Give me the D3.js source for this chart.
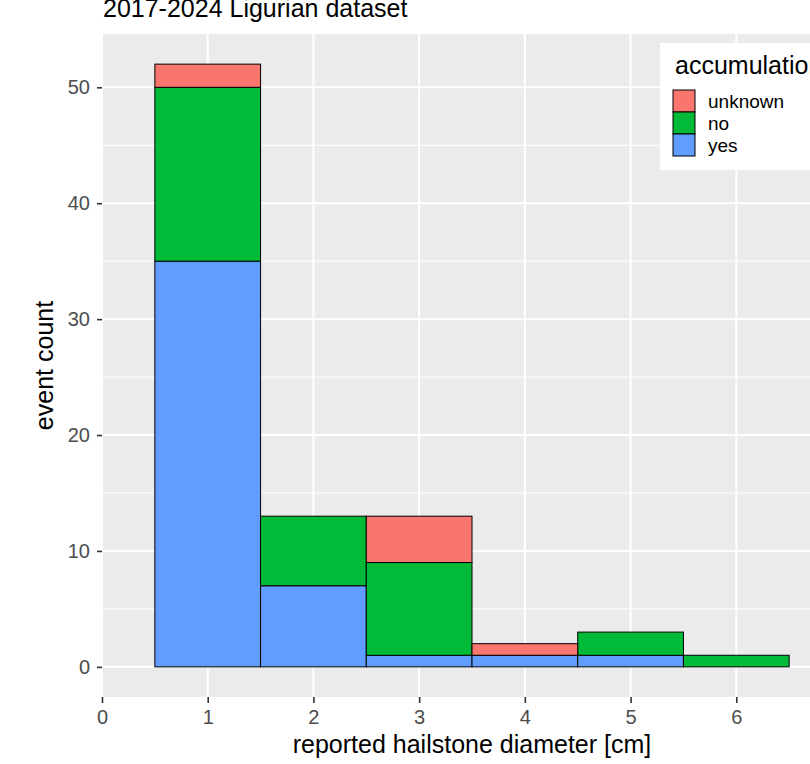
<!DOCTYPE html>
<html>
<head>
<meta charset="utf-8">
<script src="https://cdn.jsdelivr.net/npm/d3@7"></script>
<style>
  body { margin: 0; background: #fff; }
  svg { display: block; }
  text { font-family: "Liberation Sans", Arial, sans-serif; }
</style>
</head>
<body>
<div id="chart"></div>
<script>
// histogram bins (reported diameter, cm) and counts per accumulation class
const bins = [1, 2, 3, 4, 5, 6];
const yesCounts = [35, 7, 1, 1, 1, 0];
const noCounts = [15, 6, 8, 0, 2, 1];
const unknownCounts = [2, 0, 4, 1, 0, 0];
const classes = ["yes", "no", "unknown"];        // stacking order, bottom to top
const legendOrder = ["unknown", "no", "yes"];
const colors = { unknown: "#F8766D", no: "#00BA38", yes: "#619CFF" };
const xTicks = [0, 1, 2, 3, 4, 5, 6];
const yTicks = [0, 10, 20, 30, 40, 50];
const yMinor = [5, 15, 25, 35, 45];

const W = 810, H = 764;
const panel = { left: 102, right: 842, top: 34, bottom: 697 };

const rows = bins.map((b, i) => ({
  bin: b, yes: yesCounts[i], no: noCounts[i], unknown: unknownCounts[i]
}));

const svg = d3.select("#chart").append("svg")
  .attr("width", W)
  .attr("height", H);

const x = d3.scaleLinear().domain([0, 7]).range([panel.left, panel.right]);
const yMax = d3.max(rows, d => d.yes + d.no + d.unknown);
const y = d3.scaleLinear()
  .domain([-yMax * 0.05, yMax * 1.05])
  .range([panel.bottom, panel.top]);

// panel background
svg.append("rect")
  .attr("x", panel.left)
  .attr("y", panel.top)
  .attr("width", panel.right - panel.left)
  .attr("height", panel.bottom - panel.top)
  .attr("fill", "#EBEBEB");

// grid
svg.selectAll("line.minor-y")
  .data(yMinor)
  .enter().append("line")
  .attr("x1", panel.left).attr("x2", panel.right)
  .attr("y1", d => y(d)).attr("y2", d => y(d))
  .attr("stroke", "#fff").attr("stroke-width", 1);

svg.selectAll("line.major-y")
  .data(yTicks)
  .enter().append("line")
  .attr("x1", panel.left).attr("x2", panel.right)
  .attr("y1", d => y(d)).attr("y2", d => y(d))
  .attr("stroke", "#fff").attr("stroke-width", 2);

svg.selectAll("line.major-x")
  .data(xTicks)
  .enter().append("line")
  .attr("x1", d => x(d)).attr("x2", d => x(d))
  .attr("y1", panel.top).attr("y2", panel.bottom)
  .attr("stroke", "#fff").attr("stroke-width", 2);

// stacked bars
const stacked = d3.stack().keys(classes)(rows);

svg.append("g")
  .selectAll("g")
  .data(stacked)
  .enter().append("g")
  .attr("fill", d => colors[d.key])
  .selectAll("rect")
  .data(d => d.filter(s => s[1] > s[0]))
  .enter().append("rect")
  .attr("x", d => x(d.data.bin - 0.5))
  .attr("width", d => x(d.data.bin + 0.5) - x(d.data.bin - 0.5))
  .attr("y", d => y(d[1]))
  .attr("height", d => y(d[0]) - y(d[1]))
  .attr("stroke", "#000")
  .attr("stroke-width", 1);

// axes
const xAxis = svg.append("g")
  .attr("transform", `translate(0,${panel.bottom})`)
  .call(d3.axisBottom(x).tickValues(xTicks).tickSize(6).tickPadding(7).tickFormat(d3.format("d")));
xAxis.select(".domain").remove();
xAxis.selectAll("line").attr("stroke", "#333").attr("stroke-width", 1.6);
xAxis.selectAll("text")
  .attr("fill", "#4D4D4D")
  .style("font-size", "20px")
  .style("font-family", "'Liberation Sans', Arial, sans-serif");

const yAxis = svg.append("g")
  .attr("transform", `translate(${panel.left},0)`)
  .call(d3.axisLeft(y).tickValues(yTicks).tickSize(5).tickPadding(7).tickFormat(d3.format("d")));
yAxis.select(".domain").remove();
yAxis.selectAll("line").attr("stroke", "#333").attr("stroke-width", 1.6);
yAxis.selectAll("text")
  .attr("fill", "#4D4D4D")
  .style("font-size", "20px")
  .style("font-family", "'Liberation Sans', Arial, sans-serif");

// titles
svg.append("text")
  .attr("x", 103)
  .attr("y", 17)
  .style("font-size", "25px")
  .attr("fill", "#000")
  .text("2017-2024 Ligurian dataset");

svg.append("text")
  .attr("x", (panel.left + panel.right) / 2)
  .attr("y", 753)
  .attr("text-anchor", "middle")
  .style("font-size", "25px")
  .attr("fill", "#000")
  .text("reported hailstone diameter [cm]");

svg.append("text")
  .attr("transform", `translate(53,${(panel.top + panel.bottom) / 2}) rotate(-90)`)
  .attr("text-anchor", "middle")
  .style("font-size", "25px")
  .attr("fill", "#000")
  .text("event count");

// legend
const legend = svg.append("g");
legend.append("rect")
  .attr("x", 660).attr("y", 43)
  .attr("width", 180).attr("height", 127)
  .attr("fill", "#fff");
legend.append("text")
  .attr("x", 675).attr("y", 74)
  .style("font-size", "25px")
  .attr("fill", "#000")
  .text("accumulation");

const keyH = 22;
const keys = legend.selectAll("g.key")
  .data(legendOrder)
  .enter().append("g")
  .attr("transform", (d, i) => `translate(673,${90 + i * keyH})`);
keys.append("rect")
  .attr("width", 22).attr("height", keyH)
  .attr("fill", d => colors[d])
  .attr("stroke", "#000").attr("stroke-width", 1);
keys.append("text")
  .attr("x", 35).attr("y", keyH / 2)
  .attr("dy", "0.35em")
  .style("font-size", "19px")
  .attr("fill", "#000")
  .text(d => d);
</script>
</body>
</html>
